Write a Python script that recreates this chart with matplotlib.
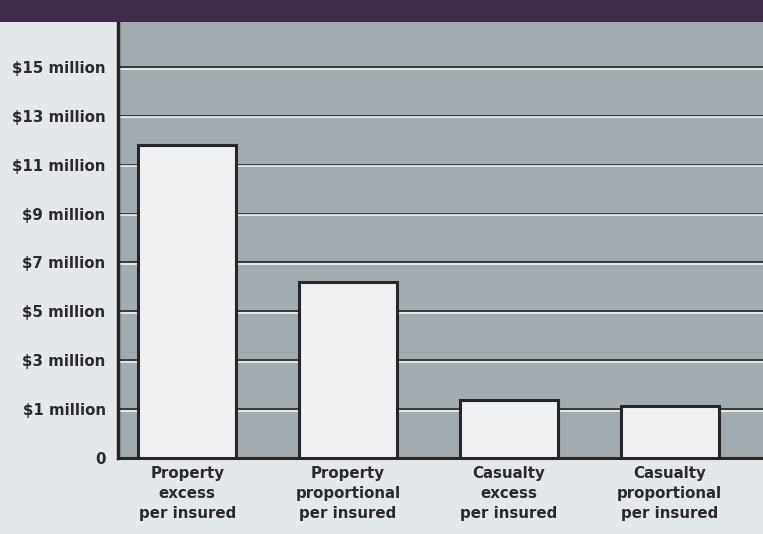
import numpy as np
import matplotlib
matplotlib.use("Agg")
import matplotlib.pyplot as plt
import matplotlib.transforms as mtransforms
from matplotlib.patches import Rectangle

categories = ["Property\nexcess\nper insured", "Property\nproportional\nper insured",
              "Casualty\nexcess\nper insured", "Casualty\nproportional\nper insured"]
values = [11.8, 6.2, 1.37, 1.12]  # $ million
tick_values = [0, 1, 3, 5, 7, 9, 11, 13, 15]
tick_labels = ["0", "$1 million", "$3 million", "$5 million", "$7 million",
               "$9 million", "$11 million", "$13 million", "$15 million"]

def fwd(v):
    v = np.asarray(v, dtype=float)
    return np.where(v <= 1, v, (v + 1) / 2)

def inv(p):
    p = np.asarray(p, dtype=float)
    return np.where(p <= 1, p, 2 * p - 1)

W, H = 763, 534
fig = plt.figure(figsize=(W / 100, H / 100), dpi=100)
fig.patch.set_facecolor("#e5e8eb")
fig.patches.append(Rectangle((0, 1 - 22 / H), 1, 22 / H, transform=fig.transFigure,
                             facecolor="#3e2c48", edgecolor="none", zorder=0))

ax = fig.add_axes([118 / W, (H - 458) / H, (W - 118) / W, (458 - 22) / H])
ax.set_facecolor("#a2abb0")
ax.set_yscale("function", functions=(fwd, inv))
ax.set_ylim(0, 16.84)
x = np.arange(len(categories))
ax.set_xlim(-0.43, 3.58)

# embossed gridlines
white_off = mtransforms.offset_copy(ax.transData, fig=fig, x=0, y=-1.6, units="dots")
for tv in tick_values[1:]:
    ax.axhline(tv, color="#2e3033", lw=1.3, zorder=1)
    ax.plot([-0.43, 3.58], [tv, tv], color="#f2f3f4", lw=1.2, zorder=1.1, transform=white_off)

ax.bar(x, values, width=0.61, color="#eff1f3", edgecolor="#26272a", linewidth=2.2, zorder=3)

ax.set_yticks(tick_values)
ax.set_yticklabels(tick_labels)
ax.yaxis.set_minor_locator(matplotlib.ticker.NullLocator())
ax.set_xticks(x)
ax.set_xticklabels(categories)
for lab in ax.get_yticklabels() + ax.get_xticklabels():
    lab.set_fontfamily("DejaVu Sans")
    lab.set_fontweight("bold")
    lab.set_fontsize(10.8)
    lab.set_color("#2a2a2e")
for lab in ax.get_xticklabels():
    lab.set_linespacing(1.45)
ax.tick_params(axis="y", length=0, pad=9)
ax.tick_params(axis="x", length=0, pad=5.5)

for s in ["top", "right"]:
    ax.spines[s].set_visible(False)
ax.spines["left"].set_linewidth(2.5)
ax.spines["left"].set_color("#26272a")
ax.spines["bottom"].set_linewidth(2.2)
ax.spines["bottom"].set_color("#26272a")

fig.savefig("out.png", dpi=100, facecolor=fig.get_facecolor())
